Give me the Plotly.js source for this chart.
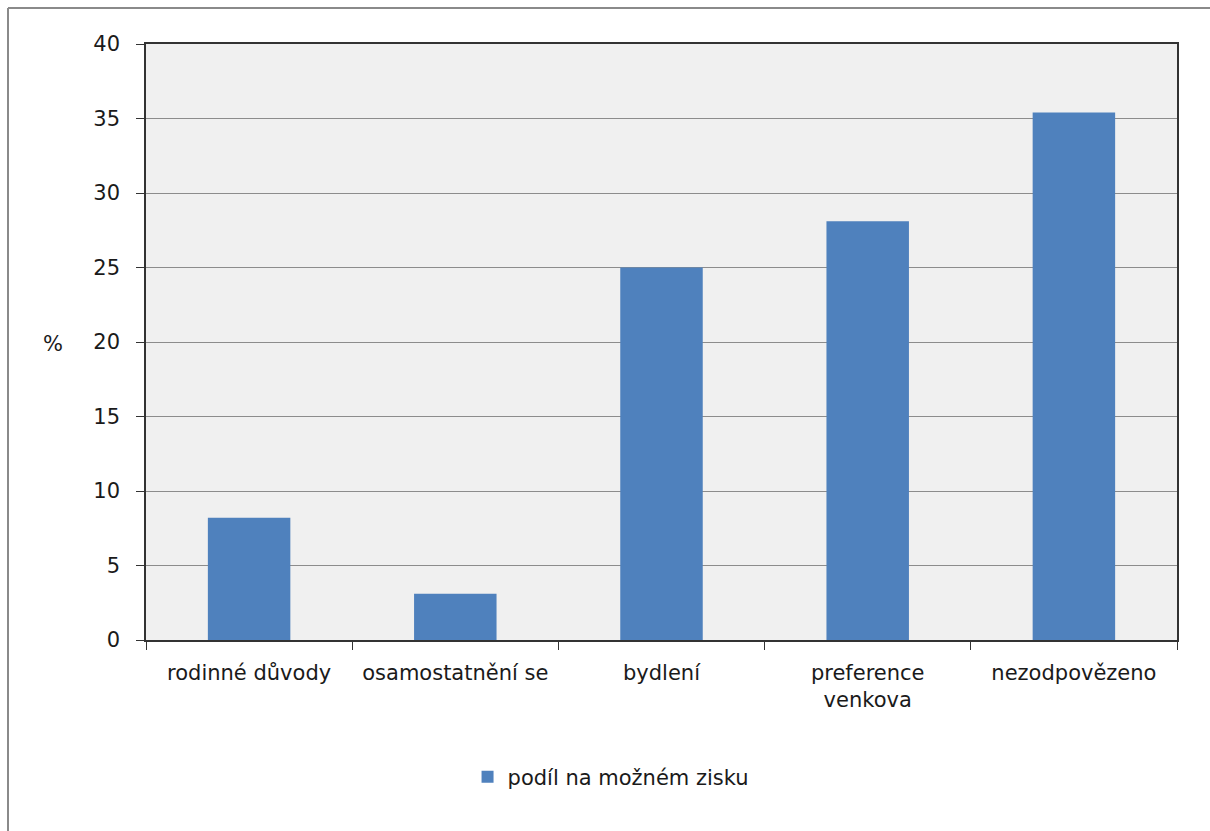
<!DOCTYPE html>
<html>
<head>
<meta charset="utf-8">
<script src="https://cdn.plot.ly/plotly-3.0.1.min.js"></script>
<style>
html,body{margin:0;padding:0;background:#fff;overflow:hidden;}
#chart{width:1210px;height:831px;}
</style>
</head>
<body>
<div id="chart"></div>
<script>
const categories = ["rodinné důvody", "osamostatnění se", "bydlení", "preference<br>venkova", "nezodpovězeno"];
const values = [8.2, 3.1, 25.0, 28.1, 35.4];
const seriesName = "podíl na možném zisku";
const yTicks = [0, 5, 10, 15, 20, 25, 30, 35, 40];

const font = "DejaVu Sans, Verdana, sans-serif";

const trace = {
  type: "bar",
  x: categories,
  y: values,
  name: seriesName,
  marker: {color: "#4f81bd"},
  hoverinfo: "x+y"
};

const layout = {
  width: 1210,
  height: 831,
  margin: {l: 146, r: 33, t: 44, b: 191},
  paper_bgcolor: "#ffffff",
  plot_bgcolor: "#f0f0f0",
  bargap: 0.6,
  showlegend: true,
  font: {family: font, size: 20, color: "#1a1a1a"},
  xaxis: {
    type: "category",
    tickson: "boundaries",
    ticks: "outside",
    ticklen: 8,
    tickcolor: "#333",
    showline: true,
    linecolor: "#333",
    linewidth: 1.5,
    mirror: true,
    showgrid: false,
    ticklabelstandoff: 13,
    tickfont: {family: font, size: 21, color: "#1a1a1a"}
  },
  yaxis: {
    range: [0, 40],
    tickvals: yTicks,
    ticks: "outside",
    ticklen: 8,
    tickcolor: "#333",
    showline: true,
    linecolor: "#333",
    linewidth: 1.5,
    mirror: true,
    showgrid: true,
    gridcolor: "#8c8c8c",
    gridwidth: 1,
    zeroline: false,
    ticklabelstandoff: 12,
    tickfont: {family: font, size: 21, color: "#1a1a1a"}
  },
  legend: {
    orientation: "h",
    xref: "container",
    yref: "container",
    x: 0.505,
    xanchor: "center",
    y: 1 - 777/831,
    yanchor: "middle",
    font: {family: font, size: 21, color: "#1a1a1a"},
    bgcolor: "rgba(0,0,0,0)"
  },
  annotations: [{
    text: "%",
    xref: "paper", yref: "paper",
    x: (53 - 146) / 1031, y: (640 - 344) / 596,
    xanchor: "center", yanchor: "middle",
    showarrow: false,
    font: {family: font, size: 21, color: "#1a1a1a"}
  }],
  shapes: [
    {type: "line", xref: "paper", yref: "paper",
     x0: (8 - 146) / 1031, x1: (1215 - 146) / 1031,
     y0: (640 - 8) / 596, y1: (640 - 8) / 596,
     line: {color: "#8a8a8a", width: 2}},
    {type: "line", xref: "paper", yref: "paper",
     x0: (8 - 146) / 1031, x1: (8 - 146) / 1031,
     y0: (640 - 8) / 596, y1: (640 - 840) / 596,
     line: {color: "#8a8a8a", width: 2}}
  ]
};

Plotly.newPlot("chart", [trace], layout, {displayModeBar: false});
</script>
</body>
</html>
